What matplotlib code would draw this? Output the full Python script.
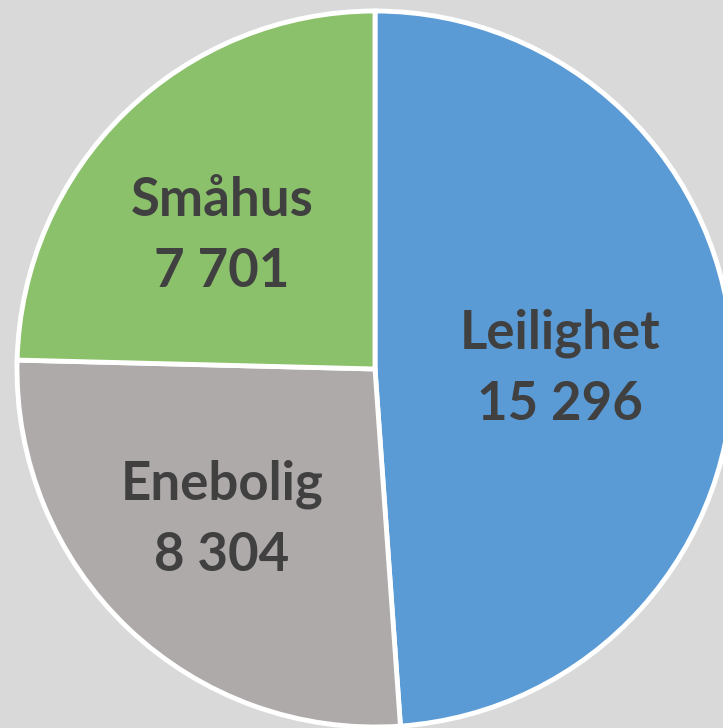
import matplotlib.pyplot as plt

# Boligtyper
labels = ['Leilighet', 'Enebolig', 'Småhus']
values = [15296, 8304, 7701]
colors = ['#5B9BD5', '#AEAAA9', '#8CC16B']

W, H = 723, 728
cx, cy, r = 375, H - 369, 358

fig = plt.figure(figsize=(W / 100, H / 100), dpi=100)
fig.patch.set_facecolor('#D9D9D9')
ax = fig.add_axes([0, 0, 1, 1])
ax.set_facecolor('#D9D9D9')

wedges, _ = ax.pie(values, colors=colors, startangle=90, counterclock=False,
                   center=(cx, cy), radius=r,
                   wedgeprops=dict(edgecolor='white', linewidth=3.5))

# label centres in pixels (from top-left)
label_pos = [(560, 369), (222, 520), (222, 236)]
for lab, val, (px, py) in zip(labels, values, label_pos):
    txt = f'{lab}\n{val:,}'.replace(',', ' ')
    ax.text(px, H - py, txt, ha='center', va='center', fontsize=38,
            fontweight='bold', color='#404040', family='Lato',
            linespacing=1.55)

ax.set_xlim(0, W)
ax.set_ylim(0, H)
ax.set_aspect('equal')
ax.axis('off')

fig.savefig('out.png', dpi=100, facecolor=fig.get_facecolor())
